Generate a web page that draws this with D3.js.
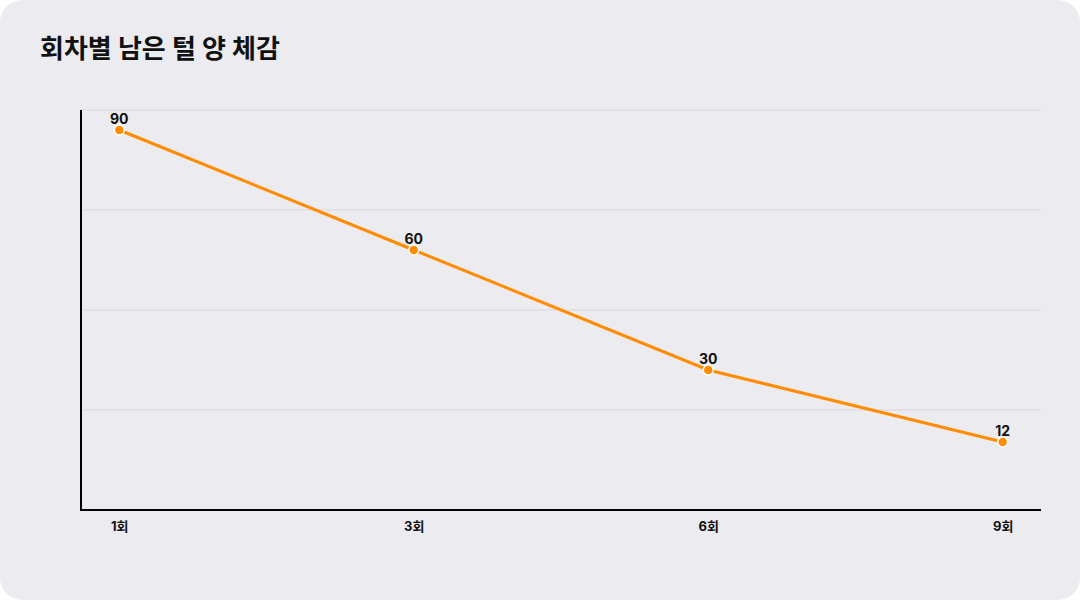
<!DOCTYPE html>
<html>
<head>
<meta charset="utf-8">
<script src="https://cdn.jsdelivr.net/npm/d3@7"></script>
<style>
  html, body { margin: 0; padding: 0; background: #ffffff; }
  svg { display: block; }
  text { font-family: Inter, "Noto Sans CJK KR", "Noto Sans", sans-serif; }
</style>
</head>
<body>
<svg id="chart" width="1080" height="600"></svg>
<script>
const rounds = ["1회", "3회", "6회", "9회"];
const remaining = [90, 60, 30, 12];
const titleText = "회차별 남은 털 양 체감";

const svg = d3.select("#chart");
const W = 1080, H = 600;
const margin = {top: 110, right: 39, bottom: 90, left: 81};

svg.append("rect")
    .attr("x", 0).attr("y", 0)
    .attr("width", W).attr("height", H)
    .attr("rx", 22)
    .attr("fill", "#ecebf0");

svg.append("text")
    .attr("x", 40).attr("y", 58)
    .attr("font-size", 26)
    .attr("font-weight", 700)
    .attr("fill", "#111")
    .text(titleText);

const data = rounds.map((r, i) => ({round: r, value: remaining[i]}));

const x = d3.scalePoint()
    .domain(rounds)
    .range([margin.left, W - margin.right])
    .padding(0.13);

const y = d3.scaleLinear()
    .domain([-5, 95])
    .range([H - margin.bottom, margin.top]);

// gridlines (no labels on the y axis)
svg.append("g").selectAll("line")
    .data([95, 70, 45, 20])
    .join("line")
    .attr("x1", margin.left).attr("x2", W - margin.right)
    .attr("y1", d => y(d)).attr("y2", d => y(d))
    .attr("stroke", "#d9d8dd")
    .attr("stroke-width", 1);

const xAxis = svg.append("g")
    .attr("transform", `translate(0,${H - margin.bottom})`)
    .call(d3.axisBottom(x).tickSize(0).tickPadding(12));
xAxis.select(".domain")
    .attr("stroke", "#000").attr("stroke-width", 2)
    .attr("d", `M${margin.left},0H${W - margin.right}`);
xAxis.selectAll("text")
    .attr("font-size", 13)
    .attr("font-weight", 700)
    .attr("fill", "#111")
    .style("font-family", 'Inter, "Noto Sans CJK KR", sans-serif');

svg.append("line")
    .attr("x1", margin.left).attr("x2", margin.left)
    .attr("y1", margin.top).attr("y2", H - margin.bottom + 1)
    .attr("stroke", "#000").attr("stroke-width", 2);

const line = d3.line()
    .x(d => x(d.round))
    .y(d => y(d.value));

svg.append("path")
    .datum(data)
    .attr("fill", "none")
    .attr("stroke", "#ff8c00")
    .attr("stroke-width", 3)
    .attr("d", line);

svg.selectAll("circle.pt")
    .data(data)
    .join("circle")
    .attr("class", "pt")
    .attr("cx", d => x(d.round))
    .attr("cy", d => y(d.value))
    .attr("r", 5)
    .attr("fill", "#ff8c00")
    .attr("stroke", "#fff")
    .attr("stroke-width", 1.5);

svg.selectAll("text.lbl")
    .data(data)
    .join("text")
    .attr("class", "lbl")
    .attr("x", d => x(d.round))
    .attr("y", d => y(d.value) - 6)
    .attr("text-anchor", "middle")
    .attr("font-size", 14)
    .attr("font-weight", 700)
    .attr("fill", "#111")
    .text(d => d.value);
</script>
</body>
</html>
